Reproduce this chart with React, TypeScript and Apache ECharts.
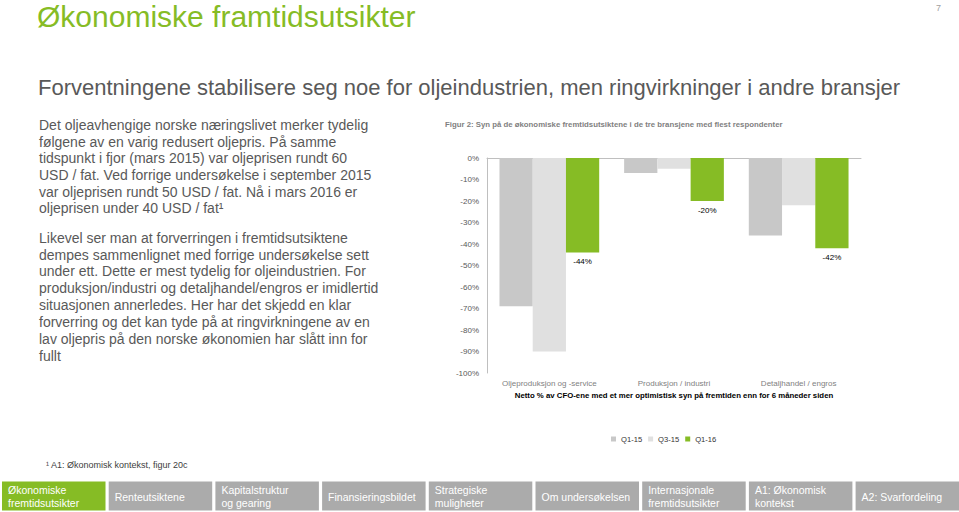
import React, { useEffect, useRef } from "react";
import * as echarts from "echarts";

const categories = ["Oljeproduksjon og -service", "Produksjon / industri", "Detaljhandel / engros"];
const seriesNames = ["Q1-15", "Q3-15", "Q1-16"];
const q1_15 = [-69, -7, -36];
const q3_15 = [-90, -5, -22];
const q1_16 = [-44, -20, -42];
const navItems = [
  "Økonomiske\nfremtidsutsikter",
  "Renteutsiktene",
  "Kapitalstruktur\nog gearing",
  "Finansieringsbildet",
  "Strategiske\nmuligheter",
  "Om undersøkelsen",
  "Internasjonale\nfremtidsutsikter",
  "A1: Økonomisk\nkontekst",
  "A2: Svarfordeling",
];
const para1 = [
  "Det oljeavhengige norske næringslivet merker tydelig",
  "følgene av en varig redusert oljepris. På samme",
  "tidspunkt i fjor (mars 2015) var oljeprisen rundt 60",
  "USD / fat. Ved forrige undersøkelse i september 2015",
  "var oljeprisen rundt 50 USD / fat. Nå i mars 2016 er",
  "oljeprisen under 40 USD / fat¹",
];
const para2 = [
  "Likevel ser man at forverringen i fremtidsutsiktene",
  "dempes sammenlignet med forrige undersøkelse sett",
  "under ett. Dette er mest tydelig for oljeindustrien. For",
  "produksjon/industri og detaljhandel/engros er imidlertid",
  "situasjonen annerledes. Her har det skjedd en klar",
  "forverring og det kan tyde på at ringvirkningene av en",
  "lav oljepris på den norske økonomien har slått inn for",
  "fullt",
];

const FONT = "'Liberation Sans', Arial, sans-serif";
const GREEN = "#86bc25";
const TEXT_GRAY = "#595959";

export default function App() {
  const ref = useRef<HTMLDivElement>(null);
  useEffect(() => {
    if (!ref.current) return;
    const chart = echarts.init(ref.current, undefined, { renderer: "svg" });

    const graphics: any[] = [];
    graphics.push({
      type: "text",
      x: 37,
      y: 16,
      style: { text: "Økonomiske framtidsutsikter", font: `30px ${FONT}`, fill: GREEN, verticalAlign: "middle" },
    });
    graphics.push({
      type: "text",
      x: 936,
      y: 3,
      style: { text: "7", font: `9px ${FONT}`, fill: "#a0a0a0" },
    });
    graphics.push({
      type: "text",
      x: 38,
      y: 87,
      style: {
        text: "Forventningene stabilisere seg noe for oljeindustrien, men ringvirkninger i andre bransjer",
        font: `22px ${FONT}`,
        fill: TEXT_GRAY,
        verticalAlign: "middle",
      },
    });
    graphics.push({
      type: "text",
      x: 39,
      y: 116.6,
      style: { text: para1.join("\n"), font: `14px ${FONT}`, fill: TEXT_GRAY, lineHeight: 16.7, verticalAlign: "top" },
    });
    graphics.push({
      type: "text",
      x: 39,
      y: 229.3,
      style: { text: para2.join("\n"), font: `14px ${FONT}`, fill: TEXT_GRAY, lineHeight: 16.85, verticalAlign: "top" },
    });
    graphics.push({
      type: "text",
      x: 46,
      y: 460,
      style: { text: "¹ A1: Økonomisk kontekst, figur 20c", font: `9px ${FONT}`, fill: "#404040" },
    });
    navItems.forEach((label, i) => {
      const x = 2 + i * 106.7;
      graphics.push({
        type: "rect",
        shape: { x, y: 481.5, width: 103.5, height: 29 },
        style: { fill: i === 0 ? GREEN : "#ababab" },
      });
      graphics.push({
        type: "text",
        x: x + 6,
        y: 496.5,
        style: {
          text: label,
          font: `10.5px ${FONT}`,
          fill: "#ffffff",
          lineHeight: 13.3,
          verticalAlign: "middle",
        },
      });
    });

    const seriesData = [q1_15, q3_15, q1_16];
    const colors = ["#c8c8c8", "#e0e0e0", GREEN];

    chart.setOption({
      animation: false,
      title: {
        text: "Figur 2: Syn på de økonomiske fremtidsutsiktene i de tre bransjene med flest respondenter",
        left: 445,
        top: 120,
        padding: 0,
        textStyle: { fontFamily: FONT, fontSize: 7.8, fontWeight: "bold", color: "#7f7f7f" },
      },
      legend: {
        data: seriesNames,
        left: 611,
        top: 435,
        padding: 0,
        itemWidth: 5,
        itemHeight: 5,
        itemGap: 6,
        icon: "rect",
        textStyle: { fontFamily: FONT, fontSize: 7.6, color: "#333333" },
      },
      grid: { left: 487, top: 158, width: 374, height: 215, containLabel: false },
      xAxis: [
        {
          type: "category",
          data: categories,
          position: "bottom",
          axisLine: { show: false },
          axisTick: { show: false },
          axisLabel: { fontFamily: FONT, fontSize: 8, color: "#7f7f7f", margin: 6 },
          name: "Netto % av CFO-ene med et mer optimistisk syn på fremtiden enn for 6 måneder siden",
          nameLocation: "middle",
          nameGap: 18,
          nameTextStyle: { fontFamily: FONT, fontSize: 7.8, fontWeight: "bold", color: "#000000" },
        },
        {
          type: "category",
          data: categories,
          position: "top",
          axisLine: { show: true, lineStyle: { color: "#bfbfbf", width: 1 } },
          axisTick: { show: false },
          axisLabel: { show: false },
        },
      ],
      yAxis: {
        type: "value",
        min: -100,
        max: 0,
        interval: 10,
        axisLine: { show: true, lineStyle: { color: "#bfbfbf", width: 1 } },
        axisTick: { show: false },
        splitLine: { show: false },
        axisLabel: { formatter: "{value}%", fontFamily: FONT, fontSize: 8, color: "#595959", margin: 8 },
      },
      series: seriesNames.map((name, i) => ({
        name,
        type: "bar",
        data: seriesData[i],
        barGap: "0%",
        barCategoryGap: "20%",
        itemStyle: { color: colors[i] },
        label:
          i === 2
            ? {
                show: true,
                position: "bottom",
                distance: 5,
                formatter: "{c}%",
                fontFamily: FONT,
                fontSize: 8,
                color: "#000000",
              }
            : { show: false },
      })),
      graphic: graphics,
    });
    return () => chart.dispose();
  }, []);
  return (
    <div
      ref={ref}
      style={{ position: "fixed", left: 0, top: 0, width: 959, height: 512, background: "#ffffff" }}
    />
  );
}
